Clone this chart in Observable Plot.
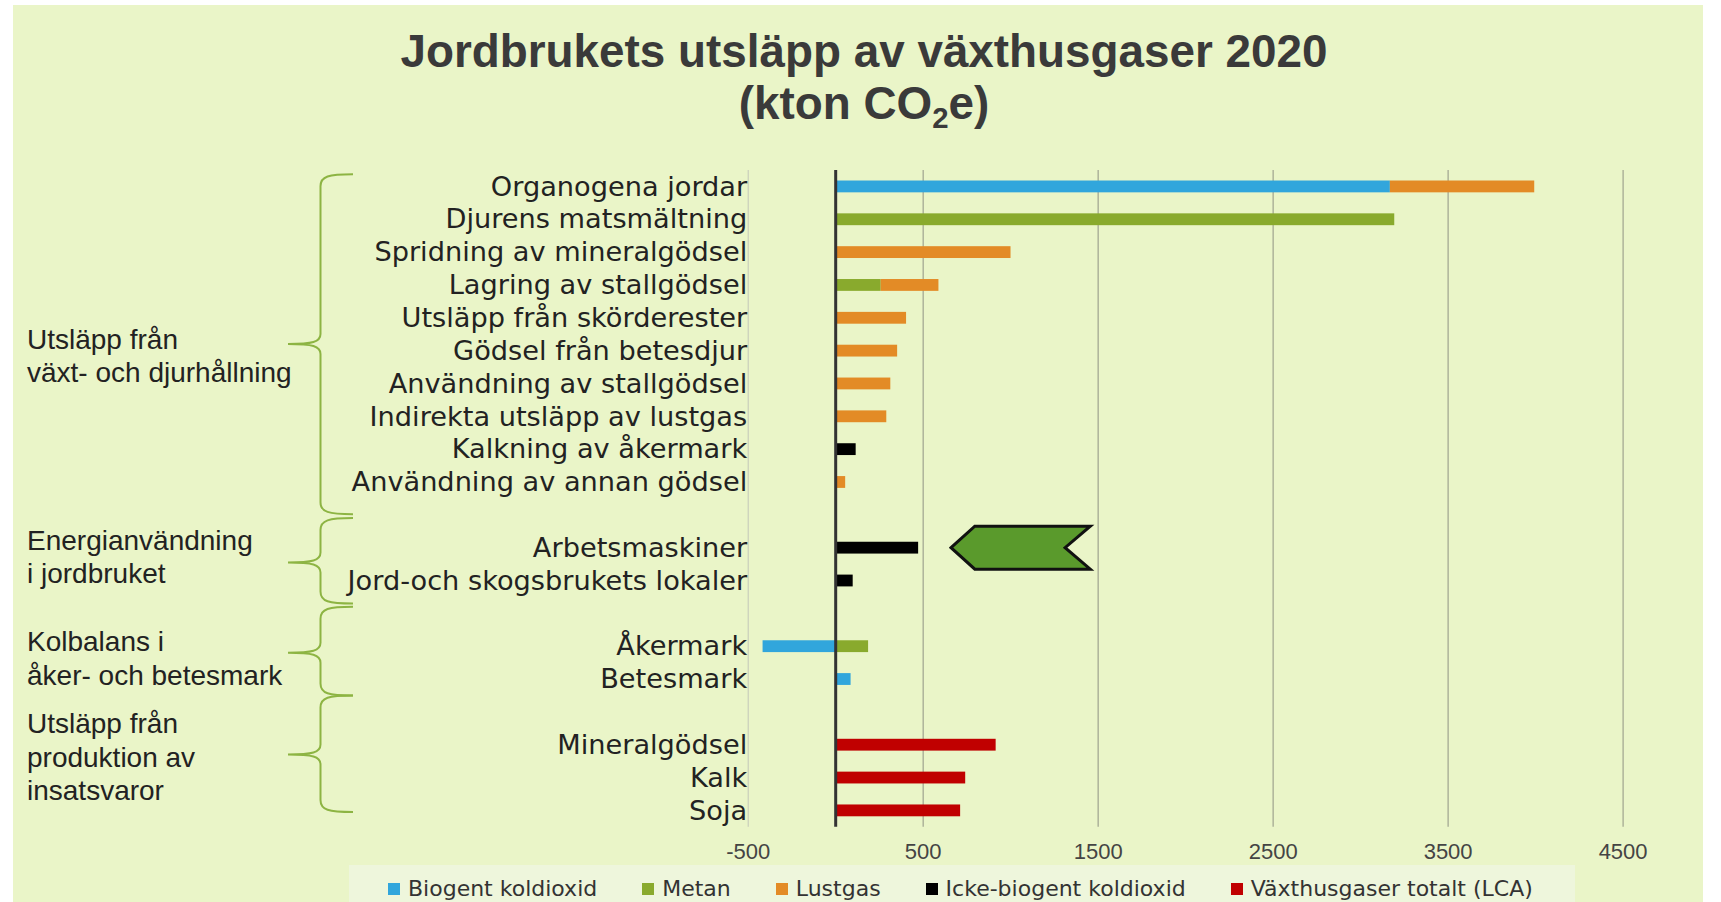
<!DOCTYPE html>
<html><head><meta charset="utf-8">
<script src="https://cdn.jsdelivr.net/npm/d3@7"></script>
<script src="https://cdn.jsdelivr.net/npm/@observablehq/plot@0.6"></script>
<style>
html,body{margin:0;padding:0;background:#fff;width:1721px;height:902px;overflow:hidden;}
#page{position:relative;width:1721px;height:902px;}
#bg{position:absolute;left:13px;top:5px;width:1690px;height:897px;background:#eaf5c8;}
#legendbg{position:absolute;left:349px;top:865px;width:1226px;height:37px;background:#eef6dc;}
#chart{position:absolute;left:0;top:0;}
.title{position:absolute;left:0;width:1728px;text-align:center;font-family:"Liberation Sans",Arial,sans-serif;font-weight:bold;font-size:46.5px;line-height:50px;color:#3a3a3a;transform:scaleX(0.9855);transform-origin:864px 0;white-space:nowrap;}
#title1{top:25.9px;}
#title2{top:77.9px;}
.title .sub{position:relative;top:0.3em;font-size:0.64em;}
#legend{position:absolute;left:388px;top:872px;}
#legend, #legend div, #legend span{font-family:"DejaVu Sans",sans-serif !important;font-size:22px !important;color:#333 !important;line-height:26px !important;margin-bottom:0 !important;}
#legend .lg-swatch{margin-right:45px !important;}
#legend .lg-swatch > svg{margin-right:8px !important;}
</style></head>
<body>
<div id="page">
  <div id="bg"></div>
  <div id="legendbg"></div>
  <div id="chart"></div>
  <div id="title1" class="title">Jordbrukets utsläpp av växthusgaser 2020</div>
  <div id="title2" class="title">(kton CO<span class="sub">2</span>e)</div>
  <div id="legend"></div>
</div>
<script>
// ---- Data (kton CO2e) ----
const categories = [
  "Organogena jordar",
  "Djurens matsmältning",
  "Spridning av mineralgödsel",
  "Lagring av stallgödsel",
  "Utsläpp från skörderester",
  "Gödsel från betesdjur",
  "Användning av stallgödsel",
  "Indirekta utsläpp av lustgas",
  "Kalkning av åkermark",
  "Användning av annan gödsel",
  "Arbetsmaskiner",
  "Jord-och skogsbrukets lokaler",
  "Åkermark",
  "Betesmark",
  "Mineralgödsel",
  "Kalk",
  "Soja"
];
const seriesNames = ["Biogent koldioxid", "Metan", "Lustgas", "Icke-biogent koldioxid", "Växthusgaser totalt (LCA)"];
const seriesColors = ["#31a6dc", "#89aa2d", "#e38b26", "#000000", "#c00000"];
const biogentKoldioxid = [3170, 0, 0, 0, 0, 0, 0, 0, 0, 0, 0, 0, -415, 88, 0, 0, 0];
const metan            = [0, 3195, 0, 260, 0, 0, 0, 0, 0, 0, 0, 0, 188, 0, 0, 0, 0];
const lustgas          = [825, 0, 1002, 330, 405, 354, 315, 292, 0, 57, 0, 0, 0, 0, 0, 0, 0];
const ickeBiogent      = [0, 0, 0, 0, 0, 0, 0, 0, 117, 0, 474, 100, 0, 0, 0, 0, 0];
const lcaTotal         = [0, 0, 0, 0, 0, 0, 0, 0, 0, 0, 0, 0, 0, 0, 917, 743, 714];
const groupLabels = [
  ["Utsläpp från", "växt- och djurhållning"],
  ["Energianvändning", "i jordbruket"],
  ["Kolbalans i", "åker- och betesmark"],
  ["Utsläpp från", "produktion av", "insatsvaror"]
];
const groupSizes = [10, 2, 2, 3];
const xTicks = [-500, 500, 1500, 2500, 3500, 4500];

// ---- Build rows (with blank gap rows between groups) ----
const rows = [];
{
  let k = 0;
  groupSizes.forEach((n, gi) => {
    if (gi > 0) rows.push("gap" + gi);
    for (let i = 0; i < n; i++) rows.push(categories[k++]);
  });
}
const seriesValues = [biogentKoldioxid, metan, lustgas, ickeBiogent, lcaTotal];
const data = [];
seriesNames.forEach((s, si) => categories.forEach((c, ci) => {
  const v = seriesValues[si][ci];
  if (v !== 0) data.push({category: c, series: s, value: v});
}));

const chart = Plot.plot({
  width: 1721, height: 902,
  marginLeft: 747.7, marginRight: 98.4, marginTop: 170, marginBottom: 75.2,
  style: {background: "transparent", fontFamily: "'Liberation Sans', Arial, sans-serif", overflow: "visible"},
  x: {domain: [-500, 4500], label: null},
  y: {domain: rows, paddingInner: 0.64, paddingOuter: 0.32, round: false, label: null},
  color: {domain: seriesNames, range: seriesColors},
  marks: [
    Plot.gridX([-500], {stroke: "#c3c7b8", strokeOpacity: 1, strokeWidth: 1}),
    Plot.gridX(xTicks.slice(1), {stroke: "#a4a993", strokeOpacity: 1, strokeWidth: 1.3}),
    Plot.barX(data, Plot.stackX({x: "value", y: "category", fill: "series", order: seriesNames})),
    Plot.ruleX([0], {stroke: "#333", strokeWidth: 3}),
    Plot.axisX(xTicks, {tickSize: 0, tickPadding: 16, fontSize: 22, fill: "#444", label: null,
      tickFormat: d => String(d)}),
    Plot.axisY({tickSize: 0, tickPadding: 1, fontSize: 27.2, fontFamily: "'DejaVu Sans', sans-serif", fill: "#222",
      label: null, tickFormat: d => d.startsWith("gap") ? "" : d})
  ]
});
document.getElementById("chart").appendChild(chart);

// ---- Annotations positioned through the plot's scales ----
const xs = chart.scale("x"), ys = chart.scale("y");
const step = ys.apply(rows[1]) - ys.apply(rows[0]);
const bw = ys.bandwidth != null ? ys.bandwidth : step * 0.36;
const rowY = r => ys.apply(rows[0]) + bw / 2 + r * step;
const svg = d3.select(chart);
const ann = svg.append("g");

// braces: [start row, end row, tip row], label centre row
const braceRows = [[-0.37, 9.98, 4.8], [10.1, 12.7, 11.45], [12.8, 15.5, 14.2], [15.5, 19.05, 17.3]];
const labelRows = [5.15, 11.28, 14.36, 17.37];
function bracePath(top, tip, bot) {
  const xe = 353, xsP = 320.5, xt = 288;
  return `M${xe},${top} C${xsP + 8},${top} ${xsP},${top + 2} ${xsP},${top + 12}` +
    ` L${xsP},${tip - 10} C${xsP},${tip - 2} ${xsP - 8},${tip} ${xt},${tip}` +
    ` C${xsP - 8},${tip} ${xsP},${tip + 2} ${xsP},${tip + 10}` +
    ` L${xsP},${bot - 12} C${xsP},${bot - 2} ${xsP + 8},${bot} ${xe},${bot}`;
}
braceRows.forEach(([a, b, t]) => {
  ann.append("path").attr("d", bracePath(rowY(a), rowY(t), rowY(b)))
    .attr("fill", "none").attr("stroke", "#8db443").attr("stroke-width", 2);
});
const lineH = 33.5;
groupLabels.forEach((lines, gi) => {
  const c = rowY(labelRows[gi]);
  const y0 = c - (lines.length - 1) * lineH / 2;
  lines.forEach((ln, li) => {
    ann.append("text").attr("x", 27).attr("y", y0 + li * lineH).attr("dy", "0.35em")
      .attr("text-anchor", "start")
      .attr("font-family", "'Liberation Sans', Arial, sans-serif").attr("font-size", 28)
      .attr("fill", "#222").text(ln);
  });
});

// green arrow next to Arbetsmaskiner
{
  const yc = rowY(rows.indexOf("Arbetsmaskiner"));
  const h = 21.5;
  const pts = [[xs.apply(662), yc], [xs.apply(798), yc - h], [xs.apply(1458), yc - h],
               [xs.apply(1314), yc], [xs.apply(1458), yc + h], [xs.apply(798), yc + h]];
  ann.append("polygon").attr("points", pts.map(p => p.join(",")).join(" "))
    .attr("fill", "#5a9a2c").attr("stroke", "#111").attr("stroke-width", 3)
    .attr("stroke-linejoin", "miter");
}

// legend from the plot's color scale
const legend = chart.legend("color", {swatchSize: 12, className: "lg"});
document.getElementById("legend").appendChild(legend);
</script>
</body></html>
